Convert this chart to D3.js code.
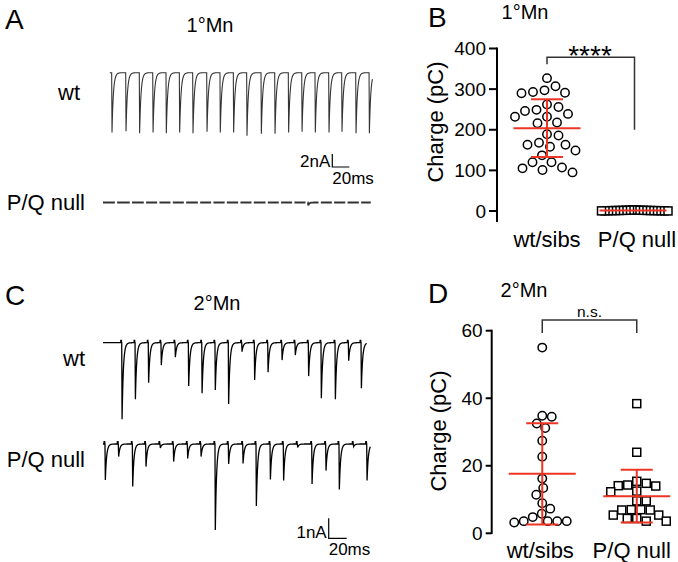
<!DOCTYPE html>
<html><head><meta charset="utf-8">
<script src="https://cdn.jsdelivr.net/npm/d3@7"></script>
<style>
body{margin:0;background:#fff}
text{font-family:"Liberation Sans",Arial,sans-serif;fill:#000}
</style>
</head><body>
<svg id="c" width="678" height="562"></svg>
<script>
// ---------------- DATA ----------------
const groups = ["wt/sibs", "P/Q null"];
const yTicksB = [0, 100, 200, 300, 400];
const yTicksD = [0, 20, 40, 60];

// Panel B: 1°Mn charge (pC)
const chargeB_wt = [327, 307, 297, 293, 291, 290, 262, 256, 249, 246, 239, 232, 232, 218, 216,
  189, 186, 168, 163, 163, 158, 149, 137, 120, 120, 107, 105, 101, 95];
const chargeB_null = [0.5, 1.2, 0.8, 2.0, 1.5, 0.3, 1.0, 2.5, 0.7, 1.8, 1.1, 0.4, 2.2, 0.9, 1.4, 0.6, 1.7, 0.2, 1.3, 2.8];
const meanB = [204, 1];
const sdB = [71, 0.5];

// Panel D: 2°Mn charge (pC)
const chargeD_wt = [55.0, 34.8, 34.5, 32.5, 31.2, 27.4, 22.7, 16.2, 13.4, 11.4, 8.9, 7.3, 5.8, 4.8, 3.6, 3.6, 3.2, 3.6, 3.6];
const chargeD_null = [38.4, 24.0, 15.4, 14.8, 14.3, 14.1, 14.0, 12.5, 12.3, 9.6, 9.6, 7.0, 7.0, 6.9, 6.9, 5.4, 5.4, 4.4, 4.4, 3.6, 3.6];
const meanD = [17.6, 11.0];
const sdD = [15.0, 7.8];

// Panel A traces (ms, nA)
const spikeTimesA_wt = [10.2, 26.7, 42.7, 58.5, 74.1, 89.8, 105.5, 122.0, 137.6, 153.3, 169.0, 185.9, 202.0, 218.0, 233.8, 249.4, 265.5, 280.8, 297.3, 313.0];
const spikeAmpsA_wt = [9.2, 9.0, 9.3, 9.2, 9.3, 9.2, 9.3, 9.1, 9.2, 9.2, 9.7, 9.4, 9.4, 9.2, 9.1, 9.2, 9.2, 9.1, 9.3, 9.3];
const stimTimesA_null = [15.3, 32.9, 49.4, 65.1, 80.8, 96.5, 113.0, 128.6, 144.4, 160.4, 176.1, 192.6, 208.2, 223.9, 239.6, 254.9, 270.6, 286.4, 302.4];
const spikeAmpsA_null = [0, 0, 0, 0, 0, 0, 0, 0, 0, 0, 0, 0, 0, 0, 0.45, 0, 0, 0, 0];

// Panel C traces (ms, nA)
const spikeTimesC_wt = [20.8, 35.6, 50.3, 64.4, 80.0, 94.8, 109.7, 124.4, 139.2, 154.1, 168.1, 183.0, 198.6, 213.3, 228.1, 242.2, 257.8, 272.6, 286.7];
const spikeAmpsC_wt = [3.83, 2.83, 2.0, 1.12, 0.73, 2.17, 2.53, 2.37, 3.07, 0.45, 1.87, 1.48, 0.87, 0.62, 1.67, 2.78, 2.83, 0.9, 2.28];
const spikeTimesC_null = [2.2, 17.0, 32.6, 47.4, 63.3, 78.1, 93.7, 108.6, 124.4, 139.2, 155.2, 170.0, 185.6, 200.3, 215.9, 231.9, 247.4, 262.2, 278.1, 293.0];
const spikeAmpsC_null = [1.8, 0.63, 2.13, 1.13, 0.2, 0.88, 0.72, 0.63, 4.3, 1.0, 0.97, 3.1, 1.77, 1.83, 0.17, 2.0, 1.33, 2.27, 0.13, 1.83];

const RED = "#ee3524";

// ---------------- DRAW ----------------
const svg = d3.select("#c");

function txt(x, y, s, size, anchor = "start", extra = {}) {
  const t = svg.append("text").attr("x", x).attr("y", y).attr("font-size", size)
    .attr("text-anchor", anchor).text(s);
  Object.entries(extra).forEach(([k, v]) => t.attr(k, v));
  return t;
}

// panel letters & titles
txt(5, 29, "A", 28); txt(428, 27, "B", 28); txt(5, 305, "C", 28); txt(428, 303, "D", 28);
txt(210, 32, "1°Mn", 20, "middle"); txt(525, 19, "1°Mn", 20, "middle");
txt(217, 310, "2°Mn", 20, "middle"); txt(524, 297, "2°Mn", 20, "middle");
txt(80, 100, "wt", 22, "end"); txt(85, 210, "P/Q null", 22, "end");
txt(85, 366, "wt", 22, "end"); txt(85, 467, "P/Q null", 22, "end");

// ---- traces ----
function buildTrace(times, amps, t0, t1, rise, tau, art) {
  let ts = d3.range(t0, t1 + 1e-9, 0.1);
  times.forEach(s => { ts.push(s, s + rise); if (art) { ts.push(s - 1.0, s - 0.3); } });
  ts = ts.filter(t => t >= t0 && t <= t1).sort((a, b) => a - b);
  return ts.map(t => {
    let v = 0;
    times.forEach((s, i) => {
      const d = t - s;
      if (d >= 0) v -= amps[i] * (d < rise ? d / rise : Math.exp(-(d - rise) / tau));
      if (art && d >= -1.0 && d < -0.3) v += art;
    });
    return [t, v];
  });
}

const xA = d3.scaleLinear().domain([0, 320]).range([103, 375]);
const yA_wt = d3.scaleLinear().domain([0, -10]).range([72.7, 137.7]);
const yA_null = d3.scaleLinear().domain([0, -10]).range([202.5, 267.5]);
const xC = d3.scaleLinear().domain([0, 300]).range([103, 373]);
const yC_wt = d3.scaleLinear().domain([0, -5]).range([342.7, 442.7]);
const yC_null = d3.scaleLinear().domain([0, -5]).range([444, 544]);

const trA = buildTrace(spikeTimesA_wt, spikeAmpsA_wt, 8, 317, 0.4, 1.6, 0);
svg.append("path").attr("d", d3.line().x(d => xA(d[0])).y(d => yA_wt(d[1]))(trA))
  .attr("fill", "none").attr("stroke", "#333").attr("stroke-width", 1.1);

const trAn = buildTrace(stimTimesA_null.map(t => t + 1.5), spikeAmpsA_null, 0, 315, 0.4, 1.2, 0)
  .map(d => [d[0], d[1], stimTimesA_null.every(s => Math.abs(d[0] - s) > 1.3)]);
svg.append("path").attr("d", d3.line().defined(d => d[2]).x(d => xA(d[0])).y(d => yA_null(d[1]))(trAn))
  .attr("fill", "none").attr("stroke", "#333").attr("stroke-width", 1.8);

const trC = buildTrace(spikeTimesC_wt, spikeAmpsC_wt, 0, 293, 0.4, 1.4, 0.12);
svg.append("path").attr("d", d3.line().x(d => xC(d[0])).y(d => yC_wt(d[1]))(trC))
  .attr("fill", "none").attr("stroke", "#000").attr("stroke-width", 1.3);
const trCn = buildTrace(spikeTimesC_null, spikeAmpsC_null, 0, 297, 0.4, 1.4, 0.12);
svg.append("path").attr("d", d3.line().x(d => xC(d[0])).y(d => yC_null(d[1]))(trCn))
  .attr("fill", "none").attr("stroke", "#000").attr("stroke-width", 1.3);

// scale bars
function scaleBar(x0, y0, xs, ys, ms, nA, lab1, lab2) {
  const w = xs(ms) - xs(0), h = ys(-nA) - ys(0);
  svg.append("path").attr("d", `M${x0},${y0 - h}V${y0}H${x0 + w}`)
    .attr("fill", "none").attr("stroke", "#000").attr("stroke-width", 1.2);
  txt(x0 - 2, y0, lab1, 17, "end");
  txt(x0, y0 + 17, lab2, 17, "start");
}
scaleBar(332.3, 167, xA, yA_wt, 20, 2, "2nA", "20ms");
scaleBar(328.7, 538.3, xC, yC_wt, 20, 1, "1nA", "20ms");

// ---- scatter panels ----
function swarm(values, y, cx, diam) {
  const pts = values.map(v => ({ v, y: y(v) })).sort((a, b) => b.v - a.v);
  const placed = [];
  pts.forEach(p => {
    for (let k = 0; k < 400; k++) {
      const off = (k % 2 ? 1 : -1) * Math.ceil(k / 2) * 0.5;
      if (placed.every(q => (q.x - (cx + off)) ** 2 + (q.y - p.y) ** 2 >= diam * diam)) {
        p.x = cx + off; break;
      }
    }
    placed.push(p);
  });
  return pts;
}

function scatterPanel(cfg) {
  const { y, x, ticks, axisX, tickLen, axisBottom, data, means, sds, shapes, diams } = cfg;
  const g = svg.append("g");
  // axis
  g.append("line").attr("x1", axisX).attr("x2", axisX).attr("y1", y(ticks[ticks.length - 1]) - 1).attr("y2", axisBottom)
    .attr("stroke", "#000").attr("stroke-width", 2);
  ticks.forEach(t => {
    g.append("line").attr("x1", axisX - tickLen).attr("x2", axisX).attr("y1", y(t)).attr("y2", y(t))
      .attr("stroke", "#000").attr("stroke-width", 2);
    g.append("text").attr("x", axisX - tickLen - 3).attr("y", y(t)).attr("dy", "0.35em")
      .attr("text-anchor", "end").attr("font-size", 19).text(t);
  });
  // points
  data.forEach((vals, gi) => {
    const pts = swarm(vals, y, x(groups[gi]), diams[gi]);
    pts.forEach(p => {
      if (shapes[gi] === "circle") {
        g.append("circle").attr("cx", p.x).attr("cy", p.y).attr("r", 4.2)
          .attr("fill", "#fff").attr("stroke", "#000").attr("stroke-width", 1.5);
      } else {
        g.append("rect").attr("x", p.x - 4).attr("y", p.y - 4).attr("width", 8).attr("height", 8)
          .attr("fill", "#fff").attr("stroke", "#000").attr("stroke-width", 1.5);
      }
    });
  });
  // mean & SD
  means.forEach((m, gi) => {
    const cx = x(groups[gi]);
    const top = y(m + sds[gi]), bot = y(m - sds[gi]);
    g.append("line").attr("x1", cx - 33.5).attr("x2", cx + 33.5).attr("y1", y(m)).attr("y2", y(m))
      .attr("stroke", RED).attr("stroke-width", 2);
    if (sds[gi] > 2) {
      g.append("line").attr("x1", cx).attr("x2", cx).attr("y1", top).attr("y2", bot).attr("stroke", RED).attr("stroke-width", 2);
      [top, bot].forEach(yy => g.append("line").attr("x1", cx - 16).attr("x2", cx + 16).attr("y1", yy).attr("y2", yy)
        .attr("stroke", RED).attr("stroke-width", 2));
    }
  });
}

// Panel B
const yB = d3.scaleLinear().domain([0, 400]).range([211, 48.5]);
const xB = d3.scalePoint().domain(groups).range([504, 676]).padding(0.5);
scatterPanel({ y: yB, x: xB, ticks: yTicksB, axisX: 497, tickLen: 8, axisBottom: 222,
  data: [chargeB_wt, chargeB_null], means: meanB, sds: sdB, shapes: ["circle", "square"], diams: [11.5, 3.1] });
txt(443, 122, "Charge (pC)", 22, "middle", { transform: "rotate(-90,443,122)" });
txt(xB(groups[0]), 247, groups[0], 22, "middle");
txt(xB(groups[1]) + 4, 247, groups[1], 22, "middle");
// significance
svg.append("path").attr("d", `M${xB(groups[0])},64.3V57.3H${xB(groups[1]) + 1.5}V${yB(200)}`)
  .attr("fill", "none").attr("stroke", "#333").attr("stroke-width", 1.5);
txt((xB(groups[0]) + xB(groups[1])) / 2, 65, "****", 28, "middle");

// Panel D
const yD = d3.scaleLinear().domain([0, 60]).range([533.3, 330.7]);
const xD = d3.scalePoint().domain(groups).range([495, 684]).padding(0.5);
scatterPanel({ y: yD, x: xD, ticks: yTicksD, axisX: 491.7, tickLen: 6, axisBottom: 534,
  data: [chargeD_wt, chargeD_null], means: meanD, sds: sdD, shapes: ["circle", "square"], diams: [9.5, 9.5] });
txt(446, 431, "Charge (pC)", 22, "middle", { transform: "rotate(-90,446,431)" });
txt(xD(groups[0]) - 2, 558, groups[0], 22, "middle");
txt(xD(groups[1]) - 5, 558, groups[1], 22, "middle");
svg.append("path").attr("d", `M${xD(groups[0])},333V320H${xD(groups[1])}V333`)
  .attr("fill", "none").attr("stroke", "#333").attr("stroke-width", 1.5);
txt((xD(groups[0]) + xD(groups[1])) / 2, 316.7, "n.s.", 15.5, "middle");
</script>
</body></html>
